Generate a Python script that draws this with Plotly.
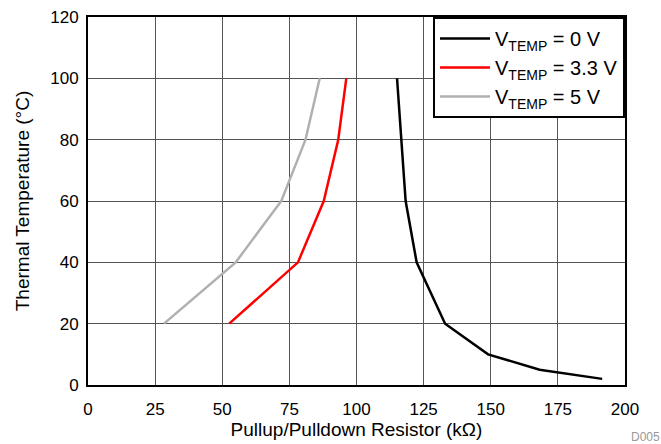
import plotly.graph_objects as go

temp_0v = [100, 80, 60, 40, 20, 10, 5, 2]
res_0v = [115.1, 116.7, 118.3, 122.4, 133.0, 149.0, 168.2, 191.5]

temp_33v = [100, 80, 60, 40, 20]
res_33v = [96.2, 93.2, 87.8, 78.2, 52.6]

temp_5v = [100, 80, 60, 40, 20]
res_5v = [86.3, 81.0, 72.0, 55.0, 28.3]

names = ["V<sub>TEMP</sub> = 0 V", "V<sub>TEMP</sub> = 3.3 V", "V<sub>TEMP</sub> = 5 V"]
colors = ["#000000", "#ff0000", "#b0b0b0"]

x_ticks = [0, 25, 50, 75, 100, 125, 150, 175, 200]
y_ticks = [0, 20, 40, 60, 80, 100, 120]

fig = go.Figure()
for xs, ys, nm, c in [(res_0v, temp_0v, names[0], colors[0]),
                      (res_33v, temp_33v, names[1], colors[1]),
                      (res_5v, temp_5v, names[2], colors[2])]:
    fig.add_trace(go.Scatter(x=xs, y=ys, mode="lines", name=nm,
                             line=dict(color=c, width=2.5)))

font = "Liberation Sans, Arial, sans-serif"
fig.update_layout(
    width=661, height=444,
    margin=dict(l=88, r=36, t=17, b=59),
    paper_bgcolor="white", plot_bgcolor="white",
    font=dict(family=font, size=17, color="#000"),
    showlegend=True,
    legend=dict(x=1, y=1, xanchor="right", yanchor="top",
                bgcolor="white", bordercolor="#000", borderwidth=2,
                font=dict(size=20), tracegroupgap=0, itemwidth=50),
    xaxis=dict(range=[0, 200], tickvals=x_ticks, ticktext=[str(v) for v in x_ticks],
               showgrid=True, gridcolor="#555", gridwidth=1,
               showline=True, linecolor="#000", linewidth=2, mirror=True,
               ticks="", zeroline=False, automargin=False, ticklabelstandoff=8,
               title=dict(text="Pullup/Pulldown Resistor (k\u03a9)", standoff=2,
                          font=dict(size=19)),
               tickfont=dict(size=17)),
    yaxis=dict(range=[0, 120], tickvals=y_ticks, ticktext=[str(v) for v in y_ticks],
               showgrid=True, gridcolor="#555", gridwidth=1,
               showline=True, linecolor="#000", linewidth=2, mirror=True,
               ticks="", zeroline=False, automargin=False, ticklabelstandoff=4,
               title=dict(text="Thermal Temperature (\u00b0C)", standoff=16,
                          font=dict(size=19)),
               tickfont=dict(size=17)),
)
fig.add_annotation(text="D005", xref="paper", yref="paper", x=1.0, y=0,
                   xshift=4, yshift=-52, xanchor="left", yanchor="middle",
                   showarrow=False, font=dict(size=12, color="#999"))
fig.write_html("out.html", config={"displayModeBar": False},
               post_script="document.body.style.margin='0';document.body.style.overflow='hidden';")
